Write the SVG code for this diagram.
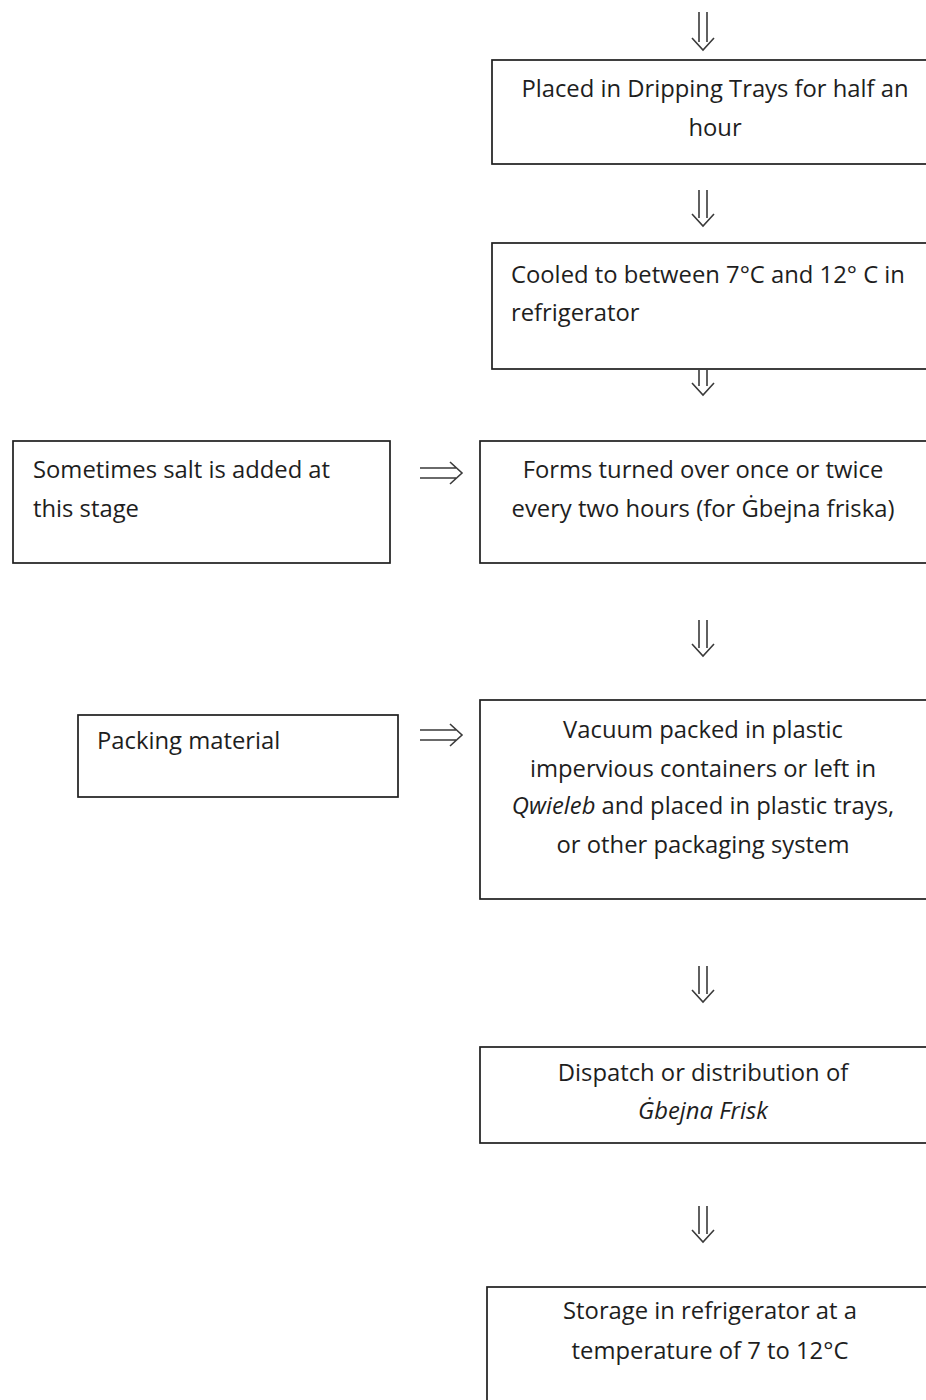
<svg xmlns="http://www.w3.org/2000/svg" width="926" height="1400" viewBox="0 0 926 1400">
<style>
.box{fill:#fff;stroke:#1e1e1e;stroke-width:1.7}
.t{font-family:"Open Sans","Liberation Sans",sans-serif;font-size:23.8px;fill:#1e1e1e}
.c{text-anchor:middle}
.arr{fill:none;stroke:#3a3a3a;stroke-width:1.6}
</style>
<rect width="926" height="1400" fill="#fff"/>
<g id="connectors">
<path class="arr" d="M699 12V42M707 12V42M692 38L703 50L714 38"/>
<path class="arr" d="M699 190V218M707 190V218M692 214L703 226L714 214"/>
<path class="arr" d="M699 370V386M707 370V386M692 383L703 395L714 383"/>
<path class="arr" d="M699 620V648M707 620V648M692 644L703 656L714 644"/>
<path class="arr" d="M699 966V994M707 966V994M692 990L703 1002L714 990"/>
<path class="arr" d="M699 1206V1234M707 1206V1234M692 1230L703 1242L714 1230"/>
<path class="arr" d="M420 468H456M420 478H456M450 462L462 473L450 484"/>
<path class="arr" d="M420 730H456M420 740H456M450 724L462 735L450 746"/>
</g>
<g id="n1">
<rect class="box" x="492" y="60" width="440" height="104"/>
<text class="t c" x="715" y="97">Placed in Dripping Trays for half an</text>
<text class="t c" x="715" y="136">hour</text>
</g>
<g id="n2">
<rect class="box" x="492" y="243" width="440" height="126"/>
<text class="t" x="511" y="283">Cooled to between 7°C and 12° C in</text>
<text class="t" x="511" y="321">refrigerator</text>
</g>
<g id="n3a">
<rect class="box" x="13" y="441" width="377" height="122"/>
<text class="t" x="33" y="478">Sometimes salt is added at</text>
<text class="t" x="33" y="517">this stage</text>
</g>
<g id="n3">
<rect class="box" x="480" y="441" width="452" height="122"/>
<text class="t c" x="703" y="478">Forms turned over once or twice</text>
<text class="t c" x="703" y="517">every two hours (for Ġbejna friska)</text>
</g>
<g id="n4a">
<rect class="box" x="78" y="715" width="320" height="82"/>
<text class="t" x="97" y="749">Packing material</text>
</g>
<g id="n4">
<rect class="box" x="480" y="700" width="452" height="199"/>
<text class="t c" x="703" y="738">Vacuum packed in plastic</text>
<text class="t c" x="703" y="777">impervious containers or left in</text>
<text class="t c" x="703" y="814"><tspan font-style="italic">Qwieleb</tspan> and placed in plastic trays,</text>
<text class="t c" x="703" y="853">or other packaging system</text>
</g>
<g id="n5">
<rect class="box" x="480" y="1047" width="452" height="96"/>
<text class="t c" x="703" y="1081">Dispatch or distribution of</text>
<text class="t c" x="703" y="1119" font-style="italic">Ġbejna Frisk</text>
</g>
<g id="n6">
<rect class="box" x="487" y="1287" width="445" height="130"/>
<text class="t c" x="710" y="1319">Storage in refrigerator at a</text>
<text class="t c" x="710" y="1359">temperature of 7 to 12°C</text>
</g>
</svg>
